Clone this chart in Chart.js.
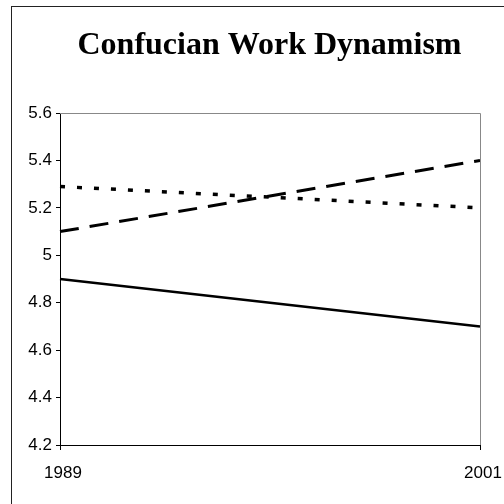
<!DOCTYPE html>
<html>
<head>
<meta charset="utf-8">
<script src="https://cdn.jsdelivr.net/npm/chart.js@4"></script>
<style>
  html, body { margin: 0; padding: 0; background: #fff; }
  #wrap { width: 504px; height: 504px; position: relative; }
</style>
</head>
<body>
<div id="wrap"><canvas id="c" width="504" height="504"></canvas></div>
<script>
const chartTitle = 'Confucian Work Dynamism';
const years = ['1989', '2001'];
const solidSeries = [4.9, 4.7];
const dashedSeries = [5.1, 5.4];
const dottedSeries = [5.29, 5.2];
const yMin = 4.2, yMax = 5.6, yStep = 0.2;

const framePlugin = {
  id: 'frame',
  beforeDraw(chart) {
    const ctx = chart.ctx;
    ctx.save();
    ctx.fillStyle = '#fff';
    ctx.fillRect(0, 0, chart.width, chart.height);
    ctx.strokeStyle = '#222';
    ctx.lineWidth = 1;
    ctx.strokeRect(11.5, 6.5, 540, 540);
    ctx.restore();
  },
  afterDraw(chart) {
    const ctx = chart.ctx;
    const a = chart.chartArea;
    ctx.save();
    ctx.strokeStyle = '#888';
    ctx.lineWidth = 1;
    ctx.beginPath();
    ctx.moveTo(a.left, Math.round(a.top) + 0.5);
    ctx.lineTo(Math.round(a.right) + 0.5, Math.round(a.top) + 0.5);
    ctx.lineTo(Math.round(a.right) + 0.5, a.bottom);
    ctx.stroke();
    ctx.fillStyle = '#000';
    ctx.font = 'bold 32px "Liberation Serif", "Times New Roman", serif';
    ctx.textAlign = 'center';
    ctx.textBaseline = 'alphabetic';
    ctx.fillText(chartTitle, 269.5, 54);
    ctx.restore();
  }
};

new Chart(document.getElementById('c'), {
  type: 'line',
  data: {
    labels: years,
    datasets: [
      { data: solidSeries, borderColor: '#000', borderWidth: 2.5, pointRadius: 0, tension: 0, fill: false },
      { data: dashedSeries, borderColor: '#000', borderWidth: 3, borderDash: [19, 11], pointRadius: 0, tension: 0, fill: false },
      { data: dottedSeries, borderColor: '#000', borderWidth: 3.5, borderDash: [5, 12], borderCapStyle: 'butt', pointRadius: 0, tension: 0, fill: false }
    ]
  },
  options: {
    responsive: false,
    animation: false,
    layout: { padding: { top: 113, right: 24, bottom: 0, left: 0 } },
    plugins: { legend: { display: false }, title: { display: false }, tooltip: { enabled: false } },
    scales: {
      x: {
        type: 'category',
        offset: false,
        afterFit(s) { s.height = 59; s.paddingLeft = 0; s.paddingRight = 0; },
        grid: { display: true, drawOnChartArea: false, drawTicks: true, tickLength: 5, color: '#000' },
        border: { display: true, color: '#000', width: 1 },
        ticks: { color: '#000', font: { family: '"Liberation Sans", Arial, sans-serif', size: 17 }, padding: 13, labelOffset: 3, maxRotation: 0, autoSkip: false }
      },
      y: {
        min: yMin, max: yMax,
        afterFit(s) { s.width = 60; s.paddingTop = 0; s.paddingBottom = 0; },
        grid: { display: true, drawOnChartArea: false, drawTicks: true, tickLength: 4, color: '#000' },
        border: { display: true, color: '#000', width: 1 },
        ticks: {
          stepSize: yStep, color: '#000', padding: 4,
          font: { family: '"Liberation Sans", Arial, sans-serif', size: 17 },
          callback(v) { return String(Number(v.toFixed(1))); }
        }
      }
    }
  },
  plugins: [framePlugin]
});
</script>
</body>
</html>
